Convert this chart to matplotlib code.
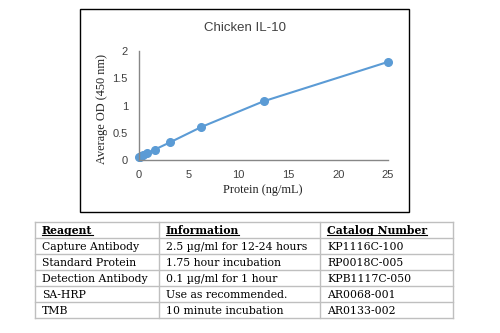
import matplotlib.pyplot as plt
from matplotlib.patches import Rectangle
from matplotlib.lines import Line2D

# standard curve data
protein = [0, 0.098, 0.195, 0.39, 0.78, 1.56, 3.125, 6.25, 12.5, 25]
od = [0.05, 0.06, 0.07, 0.09, 0.12, 0.19, 0.325, 0.605, 1.077, 1.80]

# reagent table
headers = ["Reagent", "Information", "Catalog Number"]
reagents = ["Capture Antibody", "Standard Protein", "Detection Antibody", "SA-HRP", "TMB"]
info = ["2.5 \u00b5g/ml for 12-24 hours", "1.75 hour incubation", "0.1 \u00b5g/ml for 1 hour",
        "Use as recommended.", "10 minute incubation"]
catalog = ["KP1116C-100", "RP0018C-005", "KPB1117C-050", "AR0068-001", "AR0133-002"]

W, H = 500, 333
fig = plt.figure(figsize=(5, 3.33), dpi=100)

def fx(px):
    return px / W

def fy(py):
    return 1 - py / H

# chart frame
fig.patches.append(Rectangle((fx(80), fy(212)), fx(409) - fx(80), fy(9) - fy(212),
                             transform=fig.transFigure, fill=False, edgecolor='black', lw=1.0))

ax = fig.add_axes([fx(139), fy(160), fx(388) - fx(139), fy(51) - fy(160)])
blue = '#5B9BD5'
ax.plot(protein, od, color=blue, lw=1.5, marker='o', markersize=5.5, clip_on=False)
ax.set_xlim(0, 25)
ax.set_ylim(0, 2)
ax.set_xticks([0, 5, 10, 15, 20, 25])
ax.set_yticks([0, 0.5, 1, 1.5, 2])
ax.set_yticklabels(['0', '0.5', '1', '1.5', '2'])
for s in ['top', 'right']:
    ax.spines[s].set_visible(False)
for s in ['left', 'bottom']:
    ax.spines[s].set_color('#878787')
    ax.spines[s].set_linewidth(1.0)
ax.tick_params(axis='y', length=0, labelsize=8, colors='#404040', pad=8)
ax.tick_params(axis='x', length=0, labelsize=8, colors='#404040', pad=7)
for lab in ax.get_xticklabels() + ax.get_yticklabels():
    lab.set_family('Liberation Sans')

fig.text(fx(245), fy(28), "Chicken IL-10", ha='center', va='center', fontsize=9.5,
         family='Liberation Sans', color='#404040')
fig.text(fx(102), fy(109), "Average OD (450 nm)", ha='center', va='center', rotation=90,
         fontsize=8.8, family='Liberation Serif', color='#222222')
fig.text(fx(263), fy(190), "Protein (ng/mL)", ha='center', va='center',
         fontsize=8.8, family='Liberation Serif', color='#222222')

# table
col_x = [35, 159, 320, 453]
row_y = [222 + 16 * i for i in range(7)]
grid = '#bfbfbf'
for yy in row_y:
    fig.lines.append(Line2D([fx(col_x[0]), fx(col_x[-1])], [fy(yy), fy(yy)],
                            transform=fig.transFigure, color=grid, lw=1.0))
for xx in col_x:
    fig.lines.append(Line2D([fx(xx), fx(xx)], [fy(row_y[0]), fy(row_y[-1])],
                            transform=fig.transFigure, color=grid, lw=1.0))

tfont = 'DejaVu Serif'
tsize = 7.8
for j, h in enumerate(headers):
    t = fig.text(fx(col_x[j] + 7), fy(row_y[0] + 8), h, ha='left', va='center',
                 fontsize=tsize, fontweight='bold', family=tfont, color='black')
    fig.canvas.draw()
    bb = t.get_window_extent()
    fig.lines.append(Line2D([bb.x0 / W, bb.x1 / W], [fy(row_y[0] + 13), fy(row_y[0] + 13)],
                            transform=fig.transFigure, color='black', lw=0.8))

cols = [reagents, info, catalog]
for j, col in enumerate(cols):
    for i, val in enumerate(col):
        fig.text(fx(col_x[j] + 7), fy(row_y[i + 1] + 8.5), val, ha='left', va='center',
                 fontsize=tsize, family=tfont, color='black')

fig.savefig('out.png', dpi=100)
